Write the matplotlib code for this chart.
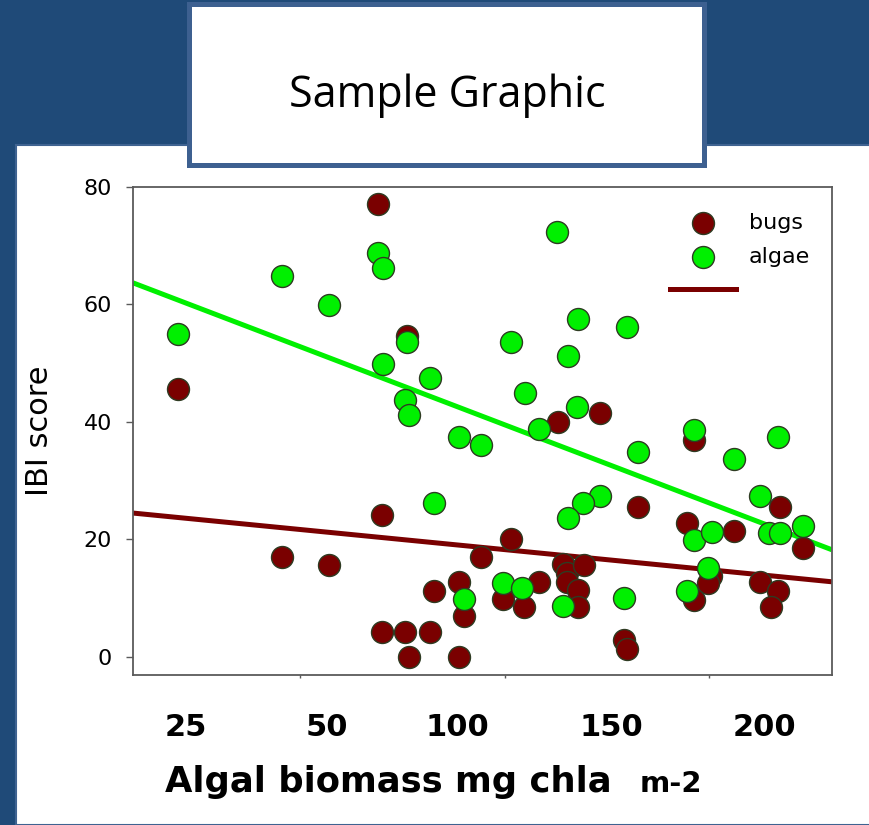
import numpy as np
import matplotlib.pyplot as plt
from matplotlib.patches import Rectangle
from matplotlib.lines import Line2D

# IBI scores against algal biomass (x in axis units, labelled below)
bugs_x = [69.1, 20.1, 76.2, 70.1, 45.6, 57.1, 94.1, 88.7, 90.0, 82.8, 70.1, 75.5,
          81.6, 76.5, 88.7, 113.0, 123.3, 146.3, 132.6, 167.2, 144.6, 156.1, 173.0,
          101.5, 99.5, 104.7, 108.3, 114.2, 115.2, 119.4, 115.2, 117.9, 117.9, 129.2,
          129.9, 150.5, 149.8, 146.3, 162.3, 166.9, 165.0]
bugs_y = [77.1, 45.6, 54.6, 24.2, 17.0, 15.7, 17.0, 12.8, 7.0, 11.2, 4.3, 4.3,
          4.3, 0.0, 0.0, 40.0, 41.5, 36.9, 25.5, 25.5, 22.8, 21.4, 18.6,
          20.1, 9.9, 8.5, 12.8, 15.8, 14.3, 15.7, 12.8, 11.4, 8.5, 2.9,
          1.4, 13.8, 12.6, 9.7, 12.8, 11.2, 8.5]

algae_x = [69.1, 70.3, 45.6, 57.1, 20.1, 76.2, 70.3, 81.6, 75.5, 76.5, 88.7, 94.1,
           82.8, 90.0, 112.7, 117.9, 129.9, 101.5, 115.4, 104.9, 117.6, 108.3, 146.3,
           166.9, 132.6, 156.1, 123.3, 119.1, 115.4, 162.3, 146.3, 150.7, 164.7, 167.4,
           173.0, 99.5, 104.2, 114.2, 129.2, 149.8, 144.6]
algae_y = [68.8, 66.2, 64.9, 59.9, 55.0, 53.6, 49.9, 47.5, 43.7, 41.2, 37.4, 36.1,
           26.2, 9.9, 72.3, 57.5, 56.2, 53.6, 51.2, 44.9, 42.6, 38.8, 38.6,
           37.4, 34.9, 33.7, 27.4, 26.2, 23.7, 27.4, 19.9, 21.3, 21.1, 21.1,
           22.3, 12.6, 11.7, 8.7, 10.0, 15.1, 11.2]

# linear fits (intercept, slope)
bugs_fit = (25.1, -0.0685)
algae_fit = (66.1, -0.266)

x_tick_pos = [22.1, 56.4, 88.4, 126.0, 163.5]
x_tick_labels = ["25", "50", "100", "150", "200"]
x_minor = [50, 100, 150]
y_ticks = [0, 20, 40, 60, 80]

BLUE = "#1f4a78"
BUG_RED = "#7a0000"
ALGAE_GREEN = "#00f000"
EDGE = "#2e3b22"

fig = plt.figure(figsize=(8.7, 8.25), dpi=100)
fig.patch.set_facecolor(BLUE)

# white slide panel and title box
fig.add_artist(Rectangle((16 / 870, 0), 1.0, 680 / 825, transform=fig.transFigure,
                         facecolor="white", edgecolor="#3f6391", lw=1.5, zorder=0))
fig.add_artist(Rectangle((189.5 / 870, 660.5 / 825), 514 / 870, 160 / 825,
                         transform=fig.transFigure, facecolor="white",
                         edgecolor="#3d6090", lw=3.6, zorder=1))
fig.text(447 / 870, 718 / 825, "Sample Graphic", ha="center", va="baseline",
         fontsize=31, family="Open Sans", color="black")

ax = fig.add_axes([133 / 870, 150 / 825, 699 / 870, 488 / 825])
ax.set_facecolor("white")

xs = np.array(ax.set_xlim(9.1, 180.0))
ax.set_ylim(-3.1, 80)

ax.plot(xs, bugs_fit[0] + bugs_fit[1] * xs, color=BUG_RED, lw=3.6,
        solid_capstyle="butt", zorder=2)
ax.plot(xs, algae_fit[0] + algae_fit[1] * xs, color=ALGAE_GREEN, lw=3.6,
        solid_capstyle="butt", zorder=2)

bugs = ax.scatter(bugs_x, bugs_y, s=250, color=BUG_RED, edgecolor=EDGE,
                  linewidth=1.0, zorder=3, label="bugs")
algae = ax.scatter(algae_x, algae_y, s=250, color=ALGAE_GREEN, edgecolor=EDGE,
                   linewidth=1.0, zorder=4, label="algae")

for sp in ax.spines.values():
    sp.set_color("#5a5a5a")
    sp.set_linewidth(1.3)

ax.set_yticks(y_ticks)
ax.tick_params(axis="y", length=5, width=1.0, color="#5a5a5a", pad=10,
               labelsize=16)
ax.set_xticks(x_tick_pos)
ax.set_xticklabels(x_tick_labels, fontsize=22, fontweight="bold")
ax.tick_params(axis="x", which="major", length=0, pad=27)
ax.set_xticks(x_minor, minor=True)
ax.tick_params(axis="x", which="minor", length=2.5, width=1.0, color="#5a5a5a")

leg_line = Line2D([], [], color=BUG_RED, lw=3.6)
ax.legend([bugs, algae, leg_line], ["bugs", "algae", ""], loc="upper left",
          bbox_to_anchor=(0.768, 0.947), frameon=False, fontsize=16,
          borderpad=0, borderaxespad=0, handlelength=2.97, handletextpad=0.59,
          labelspacing=0.62, scatterpoints=1)

fig.text(40 / 870, 394 / 825, "IBI score", rotation=90, ha="center", va="center",
         fontsize=22)
fig.text(165 / 870, 33 / 825, "Algal biomass mg chla", ha="left", va="baseline",
         fontsize=25.5, fontweight="bold")
fig.text(640 / 870, 33 / 825, "m-2", ha="left", va="baseline",
         fontsize=21, fontweight="bold")

fig.savefig("out.png", dpi=100, facecolor=fig.get_facecolor())
